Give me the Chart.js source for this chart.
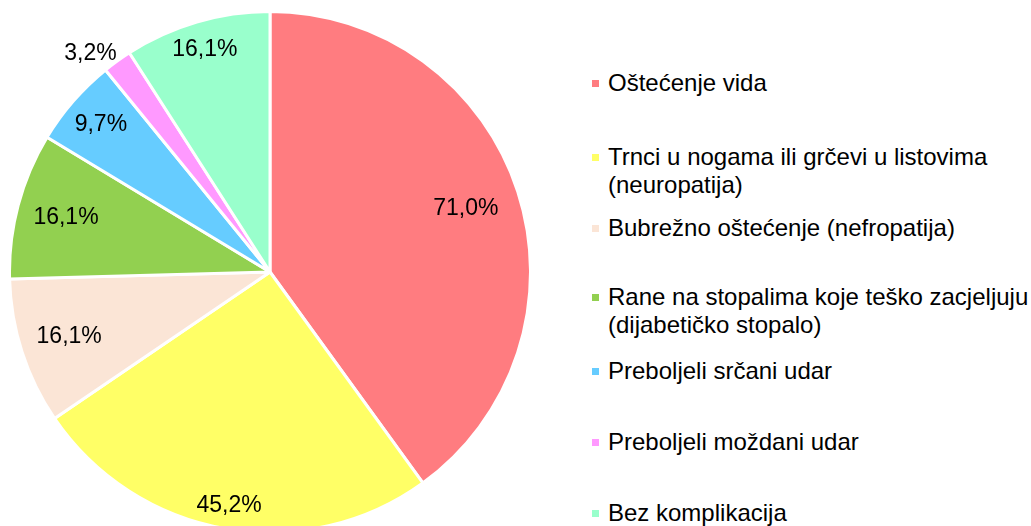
<!DOCTYPE html>
<html>
<head>
<meta charset="utf-8">
<script src="https://cdn.jsdelivr.net/npm/chart.js@4"></script>
<style>
  html, body { margin: 0; padding: 0; background: #fff; width: 1031px; height: 526px; overflow: hidden; }
  #pieBox { position: absolute; left: 8px; top: 10px; width: 524px; height: 524px; }
  .legend-item { position: absolute; left: 592px; font-family: "Liberation Sans", Arial, sans-serif; font-size: 24px; line-height: 28px; color: #000; padding-left: 16px; white-space: nowrap; }
  .legend-item .box { position: absolute; left: 0; top: 11px; width: 7px; height: 7px; }
</style>
</head>
<body>
<div id="pieBox"><canvas id="pie" width="524" height="524"></canvas></div>
<div id="legend"></div>
<script>
// data
const categories = [
  "Oštećenje vida",
  "Trnci u nogama ili grčevi u listovima\n(neuropatija)",
  "Bubrežno oštećenje (nefropatija)",
  "Rane na stopalima koje teško zacjeljuju\n(dijabetičko stopalo)",
  "Preboljeli srčani udar",
  "Preboljeli moždani udar",
  "Bez komplikacija"
];
const values = [71.0, 45.2, 16.1, 16.1, 9.7, 3.2, 16.1];
const colors = ["#FF7C80", "#FFFF66", "#FBE5D6", "#92D050", "#66CCFF", "#FF99FF", "#99FFCC"];

// label placement: fraction of radius, angle shift (deg); legend rows
const labelRadius = [0.79, 0.91, 0.81, 0.81, 0.86, 1.085, 0.89];
const labelShift = [0, 0, 0, 0, 0, -3.5, 0];
const legendTops = [69, 143, 214, 283, 357, 428, 499];

const fmt = (v) => v.toFixed(1).replace(".", ",") + "%";

// percent labels drawn on the slices
const sliceLabels = {
  id: "sliceLabels",
  afterDatasetsDraw(chart) {
    const ctx = chart.ctx;
    const arcs = chart.getDatasetMeta(0).data;
    ctx.save();
    ctx.font = '23px "Liberation Sans", Arial, sans-serif';
    ctx.fillStyle = "#000";
    ctx.textAlign = "center";
    ctx.textBaseline = "middle";
    arcs.forEach((arc, i) => {
      const mid = (arc.startAngle + arc.endAngle) / 2 + labelShift[i] * Math.PI / 180;
      const r = arc.outerRadius * labelRadius[i];
      ctx.fillText(fmt(values[i]), arc.x + Math.cos(mid) * r, arc.y + Math.sin(mid) * r);
    });
    ctx.restore();
  }
};

new Chart(document.getElementById("pie").getContext("2d"), {
  type: "pie",
  data: {
    labels: categories,
    datasets: [{
      data: values,
      backgroundColor: colors,
      borderColor: "#fff",
      borderWidth: 3
    }]
  },
  options: {
    responsive: false,
    animation: false,
    layout: { padding: 0 },
    plugins: { legend: { display: false }, tooltip: { enabled: false } }
  },
  plugins: [sliceLabels]
});

// legend on the right
const legend = document.getElementById("legend");
categories.forEach((name, i) => {
  const item = document.createElement("div");
  item.className = "legend-item";
  item.style.top = legendTops[i] + "px";
  const box = document.createElement("span");
  box.className = "box";
  box.style.background = colors[i];
  item.appendChild(box);
  name.split("\n").forEach((line, j) => {
    if (j > 0) item.appendChild(document.createElement("br"));
    item.appendChild(document.createTextNode(line));
  });
  legend.appendChild(item);
});
</script>
</body>
</html>
